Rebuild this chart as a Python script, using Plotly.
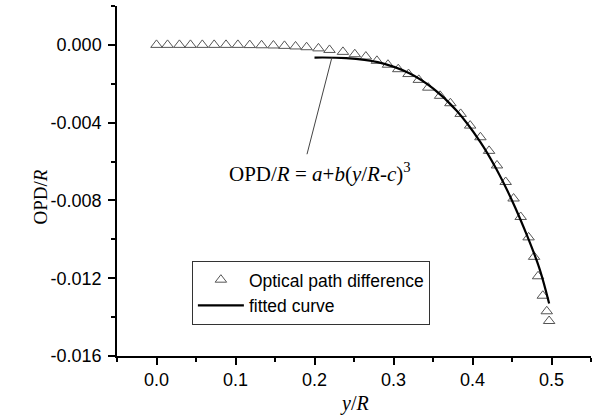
import plotly.graph_objects as go

# Measured data (optical path difference)
opd_x = [0.000, 0.014, 0.029, 0.043, 0.058, 0.073, 0.088, 0.103, 0.118, 0.133,
         0.148, 0.162, 0.176, 0.190, 0.205, 0.219, 0.236, 0.251, 0.265, 0.279,
         0.293, 0.306, 0.319, 0.332, 0.344, 0.359, 0.372, 0.385, 0.397, 0.410,
         0.421, 0.431, 0.442, 0.452, 0.461, 0.471, 0.478, 0.483, 0.489, 0.494, 0.497]
opd_y = [0.0, 0.0, 0.0, 0.0, 0.0, 0.0, 0.0, 0.0, -0.00001, -0.00002,
         -0.00003, -0.00005, -0.00008, -0.00012, -0.00018, -0.00026, -0.00036, -0.00048, -0.0006, -0.00082,
         -0.00102, -0.00125, -0.0015, -0.0018, -0.0022, -0.00262, -0.003, -0.00355, -0.00415, -0.00475,
         -0.00545, -0.0062, -0.00705, -0.0079, -0.00885, -0.0099, -0.0109, -0.0119, -0.0129, -0.0137, -0.0142]

# Fitted curve
fit_x = [0.200, 0.240, 0.280, 0.320, 0.350, 0.380, 0.410, 0.430, 0.450, 0.470, 0.485, 0.497]
fit_y = [-0.00065, -0.00068, -0.00089, -0.00146, -0.00224, -0.00339, -0.0050, -0.00637,
         -0.0080, -0.0099, -0.01153, -0.0133]

y_tickvals = [0.0, -0.004, -0.008, -0.012, -0.016]
y_ticktext = ["0.000", "-0.004", "-0.008", "-0.012", "-0.016"]
x_tickvals = [0.0, 0.1, 0.2, 0.3, 0.4, 0.5]
x_ticktext = ["0.0", "0.1", "0.2", "0.3", "0.4", "0.5"]

sans = "Liberation Sans, Arial, sans-serif"
serif = "Liberation Serif, Times New Roman, serif"

fig = go.Figure()
fig.add_trace(go.Scatter(
    x=opd_x, y=opd_y, mode="markers", name="Optical path difference",
    marker=dict(symbol="triangle-up-open", size=10, color="#555555",
                line=dict(width=1, color="#555555")),
))
fig.add_trace(go.Scatter(
    x=fit_x, y=fit_y, mode="lines", name="fitted curve",
    line=dict(color="black", width=2.2, shape="spline"),
))

# leader line from the formula to the fitted curve
fig.add_annotation(
    x=fit_x[0] + 0.022, y=fit_y[0], xref="x", yref="y",
    ax=0.190, ay=-0.0057, axref="x", ayref="y",
    showarrow=True, arrowhead=0, arrowwidth=1, arrowcolor="#444444",
    standoff=0, startstandoff=0, text="",
)
fig.add_annotation(
    x=0.207, y=-0.00655, xref="x", yref="y", showarrow=False,
    text="OPD/<i>R</i> = <i>a</i>+<i>b</i>(<i>y</i>/<i>R</i>-<i>c</i>)<sup>3</sup>",
    font=dict(family=serif, size=21, color="black"),
)
# y-axis title
fig.add_annotation(
    x=-0.188, y=0.454, xref="paper", yref="paper", showarrow=False,
    text="OPD/<i>R</i>", textangle=-90,
    font=dict(family=serif, size=19, color="black"),
)
# x-axis title
fig.add_annotation(
    x=0.5, y=-0.135, xref="paper", yref="paper", showarrow=False,
    yanchor="middle",
    text="<i>y</i>/<i>R</i>",
    font=dict(family=serif, size=20, color="black"),
)

fig.update_layout(
    width=601, height=418,
    margin=dict(l=117, r=10, t=6, b=62),
    paper_bgcolor="white", plot_bgcolor="white",
    showlegend=True,
    legend=dict(
        x=0.158, y=0.272, xanchor="left", yanchor="top",
        bordercolor="#333333", borderwidth=1, bgcolor="white",
        font=dict(family=sans, size=17.5, color="black"),
        tracegroupgap=0, itemwidth=46,
    ),
    xaxis=dict(
        range=[-0.05, 0.55], showgrid=False, zeroline=False, automargin=False,
        showline=True, linecolor="black", linewidth=1.5,
        ticks="outside", ticklen=7, tickwidth=1.5, tickcolor="black",
        tickvals=x_tickvals, ticktext=x_ticktext,
        minor=dict(dtick=0.05, tick0=0, ticks="outside", ticklen=4, tickwidth=1.5, tickcolor="black"),
        tickfont=dict(family=sans, size=18, color="black"),
    ),
    yaxis=dict(
        range=[-0.016, 0.002], showgrid=False, zeroline=False, automargin=False,
        showline=True, linecolor="black", linewidth=1.5,
        ticks="outside", ticklen=7, tickwidth=1.5, tickcolor="black",
        tickvals=y_tickvals, ticktext=y_ticktext, ticklabelstandoff=3,
        minor=dict(dtick=0.002, tick0=0, ticks="outside", ticklen=4, tickwidth=1.5, tickcolor="black"),
        tickfont=dict(family=sans, size=18, color="black"),
    ),
)

fig.write_html(
    "out.html",
    config={"displayModeBar": False},
    post_script="document.body.style.margin='0px';document.body.style.overflow='hidden';",
)
